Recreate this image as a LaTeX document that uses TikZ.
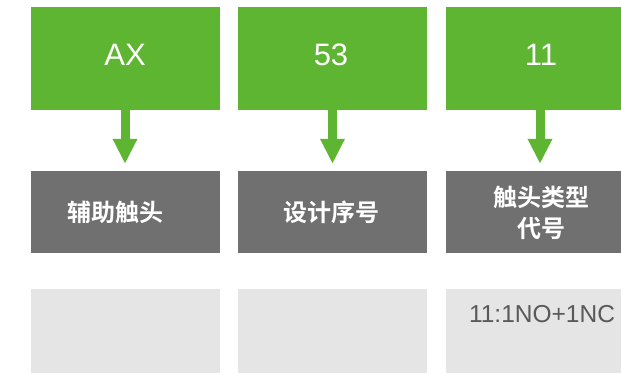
\documentclass[tikz,border=0pt]{standalone}
\usepackage{fontspec}
\setmainfont{Liberation Sans}
\newfontfamily\cjk{Noto Sans CJK SC Bold}
\usetikzlibrary{arrows.meta}
\definecolor{grn}{RGB}{93,181,49}
\definecolor{dgray}{RGB}{112,112,112}
\definecolor{lgray}{RGB}{229,229,229}
\definecolor{tgray}{RGB}{89,89,89}
\begin{document}
\begin{tikzpicture}[x=1pt,y=-1pt,
  topbox/.style={fill=grn,draw=none,minimum width=189pt,minimum height=103pt,inner sep=0pt},
  midbox/.style={fill=dgray,draw=none,minimum width=189pt,minimum height=82pt,inner sep=0pt},
  lowbox/.style={fill=lgray,draw=none,minimum width=189pt,minimum height=84pt,inner sep=0pt},
  toptext/.style={text=white,inner sep=0pt,font=\fontsize{31}{34}\selectfont},
  midtext/.style={text=white,inner sep=0pt,align=center,font=\cjk\fontsize{24}{31}\selectfont},
  lowtext/.style={text=tgray,font=\fontsize{24.5}{28}\selectfont,inner sep=0pt},
  garrow/.style={draw=grn,line width=9pt,-{Triangle[length=25pt,width=23pt]},shorten >=7pt}]
\useasboundingbox (0,0) rectangle (621,373);
\fill[white] (0,0) rectangle (621,373);
\node[topbox] (t1) at (125,58.5) {};
\node[topbox] (t2) at (332.5,58.5) {};
\node[topbox] (t3) at (540,58.5) {};
\node[toptext] (t1t) at (125,55) {AX};
\node[toptext] (t2t) at (331,55) {53};
\node[toptext] (t3t) at (541,55) {11};
\node[midbox] (m1) at (125,212) {};
\node[midbox] (m2) at (332.5,212) {};
\node[midbox] (m3) at (540,212) {};
\node[midtext] (m1t) at (115,212.5) {辅助触头};
\node[midtext] (m2t) at (331.5,212.5) {设计序号};
\node[midtext] (m3t) at (541,213) {触头类型\\代号};
\node[lowbox] (l1) at (125,331) {};
\node[lowbox] (l2) at (332.5,331) {};
\node[lowbox] (l3) at (540,331) {};
\node[lowtext] (l3t) at (542,314) {11:1NO+1NC};
\draw[garrow] (t1.south) -- (m1.north);
\draw[garrow] (t2.south) -- (m2.north);
\draw[garrow] (t3.south) -- (m3.north);
\end{tikzpicture}
\end{document}
